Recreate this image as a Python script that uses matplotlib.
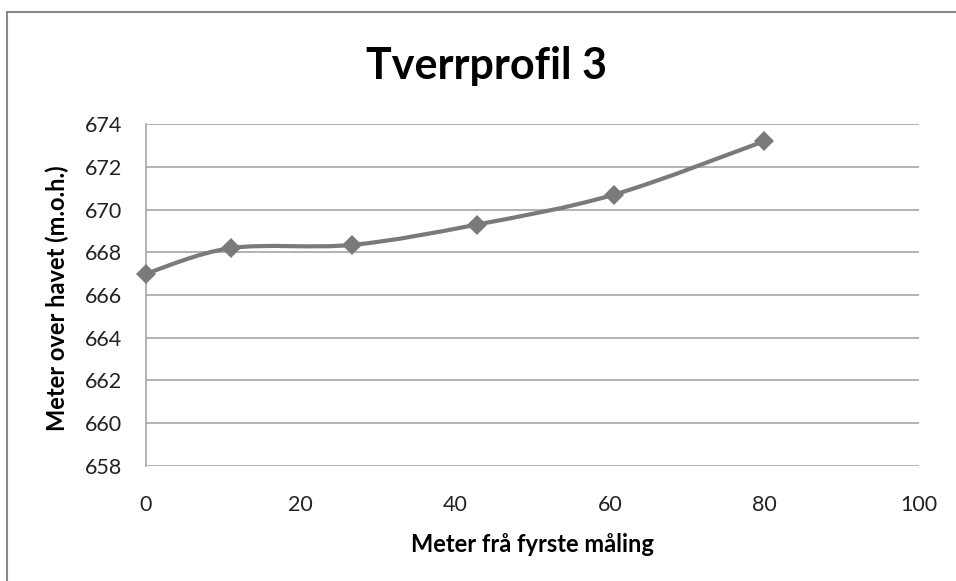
import matplotlib
matplotlib.use("Agg")
import matplotlib.pyplot as plt
from matplotlib.path import Path
from matplotlib.patches import PathPatch, Rectangle
import numpy as np

# Data
distance = [0, 11.0, 26.7, 42.8, 60.5, 79.9]
elevation = [667.0, 668.2, 668.35, 669.3, 670.7, 673.2]
x_ticks = [0, 20, 40, 60, 80, 100]
y_ticks = [658, 660, 662, 664, 666, 668, 670, 672, 674]
title = "Tverrprofil 3"
x_label = "Meter frå fyrste måling"
y_label = "Meter over havet (m.o.h.)"

plt.rcParams['font.family'] = ['Lato', 'DejaVu Sans']

fig = plt.figure(figsize=(9.56, 5.81), dpi=100)
fig.patches.append(Rectangle((7/956, -0.1), 1.2, 1 - 12/581 + 0.1, transform=fig.transFigure,
                             fill=False, edgecolor='#8a8a8a', linewidth=1.5))
ax = fig.add_axes([146/956, 1 - 465.7/581, (919 - 146)/956, (465.7 - 124.3)/581])

# Smooth line (Excel-style Catmull-Rom Bezier)
xs = np.array(distance, float)
ys = np.array(elevation, float)
n = len(xs)
verts = [(xs[0], ys[0])]
codes = [Path.MOVETO]
for i in range(n - 1):
    p0 = (xs[max(i - 1, 0)], ys[max(i - 1, 0)])
    p1 = (xs[i], ys[i])
    p2 = (xs[i + 1], ys[i + 1])
    p3 = (xs[min(i + 2, n - 1)], ys[min(i + 2, n - 1)])
    c1 = (p1[0] + (p2[0] - p0[0]) / 6, p1[1] + (p2[1] - p0[1]) / 6)
    c2 = (p2[0] - (p3[0] - p1[0]) / 6, p2[1] - (p3[1] - p1[1]) / 6)
    verts += [c1, c2, p2]
    codes += [Path.CURVE4] * 3
ax.add_patch(PathPatch(Path(verts, codes), fill=False, edgecolor='#7a7a7a',
                       linewidth=3.0, zorder=3, capstyle='round'))
ax.plot(distance, elevation, linestyle='none', marker='D', markersize=10.5,
        color='#7a7a7a', markeredgewidth=0, zorder=4, clip_on=False)

ax.set_xlim(0, 100)
ax.set_ylim(658, 674)
ax.set_xticks(x_ticks)
ax.set_yticks(y_ticks)
ax.grid(axis='y', color='#a6a6a6', linewidth=1.2)
ax.set_axisbelow(True)
for s in ['top', 'right', 'bottom']:
    ax.spines[s].set_visible(False)
ax.spines['left'].set_color('#a6a6a6')
ax.spines['left'].set_linewidth(1.2)
ax.tick_params(length=0, labelsize=15.5, colors='#222222')
ax.tick_params(axis='y', pad=17)
ax.tick_params(axis='x', pad=21)

fig.text(486/956, 1 - 66/581, title, ha='center', va='center', fontsize=31, fontweight='bold')
fig.text(532/956, 1 - 545/581, x_label, ha='center', va='center', fontsize=17, fontweight='bold')
fig.text(57/956, 1 - 298/581, y_label, ha='center', va='center', rotation=90, fontsize=17, fontweight='bold')

fig.savefig('out.png', dpi=100)
